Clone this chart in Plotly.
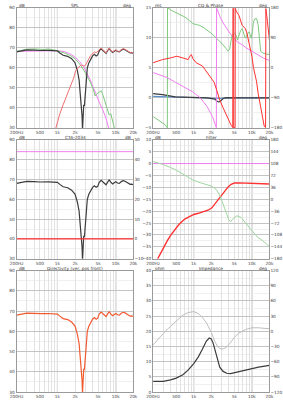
import plotly.graph_objects as go

# ---------------- tick labels ----------------
x_tickvals = [200, 300, 400, 500, 600, 700, 800, 900, 1000, 2000, 3000, 4000,
              5000, 6000, 7000, 8000, 9000, 10000, 20000]
x_ticktext = ['200Hz', '', '', '500', '', '', '', '', '1k', '2k', '', '', '5k',
              '', '', '', '', '10k', '20k']
dark_grid_freqs = [1000, 10000]

panel_titles = ['SPL', 'CD & Phase', 'CTA-2034', 'Filter',
                'Directivity (ver, pos front)', 'Impedance']
left_units = ['dB', 'ms', 'dB', 'dB', 'dB', 'ohm']
right_units = ['deg', 'deg', 'dB', 'deg', '', 'deg']

# ---------------- on-axis (sum) response ----------------
freq_on = [200, 250, 300, 400, 500, 700, 1000, 1100, 1250, 1500, 1750, 2000, 2200,
           2350, 2480, 2560, 2640, 2690, 2750, 2820, 2900, 2980, 3100, 3250, 3450,
           3700, 4000, 4300, 4600, 4900, 5200, 5600, 6000, 6400, 6800, 7250, 7700,
           8200, 8800, 9400, 10000, 10700, 11500, 12400, 13400, 14400, 15400, 16500,
           17600, 18800, 20000]
spl_on = [68.0, 68.6, 69.0, 68.9, 68.7, 68.8, 68.5, 67.5, 66.3, 65.8, 64.6, 62.6, 58.5,
          54.0, 47.0, 42.0, 36.0, 29.0, 36.0, 41.5, 41.0, 47.0, 55.0, 60.0, 62.5,
          64.5, 66.0, 66.8, 66.0, 66.5, 68.5, 69.5, 68.8, 68.0, 67.3, 68.6, 69.7,
          68.6, 67.7, 68.3, 68.8, 68.2, 68.0, 68.9, 69.4, 69.1, 68.5, 68.0, 67.5,
          67.6, 67.3]

# woofer SPL (green)
freq_woof = [200, 250, 300, 400, 500, 600, 700, 850, 1000, 1200, 1400, 1700, 2000,
             2300, 2650, 3000, 3300, 3700, 4100, 4400, 4700, 5000, 5300, 5650, 6000,
             6300, 6650, 7000, 7300, 7700, 8200, 8700, 9100, 9600]
spl_woof = [68.3, 69.0, 69.4, 69.5, 69.3, 69.2, 69.5, 69.2, 68.6, 67.8, 67.2, 66.0,
            64.6, 62.6, 60.3, 57.5, 55.5, 52.5, 49.5, 46.0, 47.0, 47.5, 48.0, 48.6,
            46.5, 44.5, 43.0, 40.0, 38.5, 36.4, 37.2, 34.0, 31.5, 29.0]

# target low-pass (magenta)
freq_tgt = [200, 500, 1000, 1300, 1600, 2000, 2400, 2800, 3200, 3650, 4150, 4670,
            5300, 6000, 6800, 7600]
spl_tgt = [68.3, 68.5, 68.6, 68.2, 67.2, 65.4, 63.2, 60.6, 57.6, 54.0, 50.0, 46.0,
           42.3, 38.9, 34.8, 29.5]

# tweeter SPL (red)
freq_tw = [930, 1000, 1100, 1250, 1400, 1550, 1700, 1900, 2050, 2250, 2420, 2600,
           2800, 3000, 3200, 3450, 3700, 4000, 4300, 4600, 4900, 5200, 5600, 6000,
           6400, 6800, 7250, 7700, 8200, 8800, 9400, 10000, 10700, 11500, 12400,
           13400, 14400, 15400, 16500, 17600, 18800, 20000]
spl_tw = [29.5, 33.0, 37.0, 41.5, 45.0, 48.5, 51.5, 55.0, 58.5, 60.0, 61.0, 61.4,
          61.0, 61.2, 62.5, 64.5, 66.2, 67.3, 68.0, 67.6, 68.2, 69.0, 70.0, 69.0,
          68.3, 67.5, 68.8, 70.0, 68.8, 67.9, 68.6, 69.0, 68.4, 68.2, 69.1, 69.6,
          69.3, 68.7, 68.2, 67.7, 67.8, 67.4]

# ---------------- CD & Phase ----------------
freq_ph_woof = [200, 260, 320, 352, 354, 420, 483, 600, 706, 850, 967, 1100, 1243,
                1450, 1700, 2000, 2475, 2800, 3186, 3600, 3900, 4130, 4350, 4560,
                4980, 5300, 5640, 6000, 6400, 6800, 7250, 7710, 8200, 8880, 9300,
                9750, 10200, 10650, 11300, 12050, 12840, 13500, 14150, 15340, 17000,
                20000]
ph_woof = [-146, -158, -170, -180, 180, 172, 167, 160, 152.6, 142, 133, 130, 128,
           122, 113.5, 104, 89, 80, 69.5, 58, 50, 55, 80, 99, 103.7, 99, 84, 99,
           112, 118, 104, 89, 99, 108.6, 100, 89, 110, 138, 147.7, 148, 128, 90, 50,
           45, 42, 40]

freq_ph_tgt = [200, 280, 350, 483, 700, 967, 1300, 1700, 2100, 2450, 2470, 2800,
               3200, 3640, 4200, 4980, 5600, 6800, 8000, 10000, 13000, 16000, 20000]
ph_tgt = [-14, -22, -29, -43, -58, -72, -90, -116, -146, -179, 180, 155, 135, 120,
          104, 89, 78, 69.5, 60, 50, 38, 29, 22.5]

freq_ph_tw = [200, 290, 400, 512, 650, 800, 880, 908, 967, 1099, 1409, 1700, 2000,
              2243, 2500, 2813, 3200, 3640, 4000, 4400, 4700, 4760, 4790, 5150,
              5170, 5400, 6000, 6800, 7700, 8200, 8880, 10000, 10650, 12000, 12840,
              15340, 16300, 17200, 17400, 18500, 20400]
ph_tw = [15.6, 25, 30, 35, 30, 25, 38, 40, 28, 15.6, 6, -13.7, -28, -43, -68, -97,
         -120, -141, -160, -172, -179, 179, -179, -179, 179, 170, 157.5, 128, 118,
         105, 79, 35, 1, -40, -77, -155, -175, -179, 178, 140, 69.5]

freq_gd = [200, 290, 480, 900, 1700, 2300, 2550, 2700, 2900, 3200, 3600, 5000,
           10000, 20000]
gd_sum = [0.71, 0.54, 0.16, 0.05, 0.0, -0.2, -0.6, -0.65, -0.5, -0.1, 0.05, 0.02,
          0.02, 0.02]
gd_other = [0.27, 0.22, 0.1, 0.02, 0.0, -0.08, -0.12, -0.12, -0.1, -0.02, 0.0, 0.0,
            0.0, 0.0]

# ---------------- CTA-2034 ----------------
cta_freq = [200, 20000]
cta_di_upper = [44, 44]
cta_di_lower = [0, 0]

# ---------------- Filter ----------------
freq_filt = [240, 270, 300, 350, 400, 480, 560, 700, 850, 1000, 1200, 1500, 1800,
             2050, 2300, 2600, 3000, 3400, 3900, 4400, 5000, 6000, 8000, 12000,
             20000]
filt_mag = [-40, -37.5, -35.5, -32.5, -30.2, -27.5, -25.5, -23.3, -22.2, -21.4,
            -20.9, -20.3, -19.5, -18.6, -17.0, -15.3, -13.2, -11.4, -9.8, -8.7,
            -8.2, -8.1, -8.2, -8.4, -8.6]
freq_filt_ph = [200, 250, 300, 400, 500, 700, 967, 1300, 1700, 2000, 2300, 2600,
                2900, 3300, 3700, 4000, 4300, 4800, 5500, 6500, 8000, 10000, 12500,
                15000, 20000]
filt_ph = [114, 110, 105, 96, 88, 73, 58, 50, 44, 40, 34, 22, 6, -18, -45, -62, -68,
           -58, -50, -55, -75, -96, -115, -124, -143]
filt_ref = [0, 0]

# ---------------- Impedance ----------------
freq_imp = [200, 250, 300, 400, 500, 650, 800, 1000, 1200, 1400, 1650, 1850, 2000,
            2150, 2300, 2550, 2800, 3200, 3700, 4300, 5000, 6000, 8000, 10000, 13000,
            20000]
imp_mag = [3.5, 3.4, 3.5, 4.0, 4.6, 5.7, 7.2, 9.4, 11.6, 14.0, 16.8, 17.8, 17.5,
           16.2, 14.0, 10.7, 8.2, 6.8, 6.2, 6.1, 6.4, 6.8, 7.3, 7.7, 8.2, 8.8]
imp_ph = [-27, -14, -4, 10, 20, 32, 37, 39, 35, 28, 17, 7, -2, -11, -20, -29, -34,
          -35, -31, -22, -12, -3, 4, 7, 7, 5]

# ---------------- styles ----------------
C_DARK = '#3c3c3c'
C_GREEN = '#7fc97f'
C_PINK = '#f07ef0'
C_RED = '#f07070'
C_RED2 = '#ff3030'
C_ORANGE = '#f25a30'
C_BLUE = '#5a8fd0'
C_LGRAY = '#bdbdbd'
FONT = 'DejaVu Sans, sans-serif'
TXT = '#444444'
FS = 4.3

W, H = 283, 400
cols = [[10 / W, 131.5 / W], [152 / W, 273 / W]]
rows = [[1 - 127.5 / H, 1 - 6 / H], [1 - 260 / H, 1 - 139.5 / H],
        [1 - 395 / H, 1 - 272 / H]]

# left/right ranges and ticks per panel
left_ax = [(30, 90, 10), (-5, 15, 5), (30, 90, 10), (-40, 10, 5), (30, 90, 10), (0, 40, 5)]
right_ax = [(-180, 180, 60), (-180, 180, 90), (-10, 50, 10), (-180, 180, 36), None,
            (-120, 120, 30)]


def aid(n):
    return '' if n == 1 else str(n)


fig = go.Figure()


def add(i, xs, ys, color, width=1.0, right=False):
    fig.add_trace(go.Scatter(
        x=xs, y=ys, mode='lines', line=dict(color=color, width=width),
        xaxis='x' + aid(i), yaxis='y' + aid(i + 6 if right else i),
        showlegend=False, hoverinfo='skip'))


# panel 1: SPL
add(1, freq_tgt, spl_tgt, C_PINK)
add(1, freq_woof, spl_woof, C_GREEN)
add(1, freq_on, spl_on, C_DARK, 1.2)
add(1, freq_tw, spl_tw, C_RED)
# panel 2: CD & phase
add(2, freq_ph_woof, ph_woof, C_GREEN, right=True)
add(2, freq_ph_tgt, ph_tgt, C_PINK, right=True)
add(2, freq_ph_tw, ph_tw, C_RED2, right=True)
add(2, freq_gd, gd_other, C_BLUE, 1.2)
add(2, freq_gd, gd_sum, C_DARK, 1.2)
# panel 3: CTA-2034
add(3, freq_on, spl_on, C_DARK, 1.2)
add(3, cta_freq, cta_di_upper, C_PINK, right=True)
add(3, cta_freq, cta_di_lower, C_RED2, 1.2, right=True)
# panel 4: Filter
add(4, cta_freq, filt_ref, C_PINK)
add(4, freq_filt_ph, filt_ph, '#9fd49f', right=True)
add(4, freq_filt, filt_mag, C_RED2, 1.4)
# panel 5: Directivity
add(5, freq_on, spl_on, C_ORANGE, 1.2)
# panel 6: Impedance
add(6, freq_imp, imp_ph, C_LGRAY, 1.0, right=True)
add(6, freq_imp, imp_mag, C_DARK, 1.2)

layout = dict(width=W, height=H, margin=dict(l=0, r=0, t=0, b=0), autosize=False,
              paper_bgcolor='white', plot_bgcolor='white',
              font=dict(family=FONT, size=FS, color=TXT), annotations=[], shapes=[])

ann_font = dict(size=FS, color='#333333', family=FONT)

for i in range(1, 7):
    r, c = (i - 1) // 2, (i - 1) % 2
    xd, yd = cols[c], rows[r]
    layout['xaxis' + aid(i)] = dict(
        type='log', range=[2.30103, 4.30103], domain=xd, anchor='y' + aid(i),
        tickvals=x_tickvals, ticktext=x_ticktext, tickangle=0,
        showgrid=True, gridcolor='#e2e2e2', gridwidth=1,
        showline=True, mirror=True, linecolor='#9a9a9a', linewidth=1,
        ticks='', tickfont=dict(size=FS, color=TXT), zeroline=False, fixedrange=True)
    lo, hi, dt = left_ax[i - 1]
    layout['yaxis' + aid(i)] = dict(
        range=[lo, hi], domain=yd, anchor='x' + aid(i), dtick=dt, tick0=lo,
        showgrid=True, gridcolor='#c4c4c4', gridwidth=1, zeroline=False,
        minor=dict(showgrid=True, gridcolor='#f0f0f0', dtick=dt / 2),
        ticks='', tickfont=dict(size=FS, color=TXT), showline=True, mirror=True,
        linecolor='#9a9a9a', fixedrange=True)
    ra = right_ax[i - 1]
    if ra is not None:
        rlo, rhi, rdt = ra
        layout['yaxis' + aid(i + 6)] = dict(
            range=[rlo, rhi], overlaying='y' + aid(i), anchor='x' + aid(i), side='right',
            dtick=rdt, tick0=rlo, showgrid=False, zeroline=False, ticks='',
            tickfont=dict(size=FS, color=TXT), fixedrange=True)
    else:
        layout['yaxis' + aid(i + 6)] = dict(
            range=[0, 1], overlaying='y' + aid(i), anchor='x' + aid(i), side='right',
            showgrid=False, zeroline=False, showticklabels=False, fixedrange=True)
    # title and units
    layout['annotations'].append(dict(
        text=panel_titles[i - 1], x=(xd[0] + xd[1]) / 2, y=yd[1], xref='paper',
        yref='paper', xanchor='center', yanchor='bottom', showarrow=False,
        font=ann_font, borderpad=0, yshift=-1))
    layout['annotations'].append(dict(
        text=left_units[i - 1], x=xd[0], y=yd[1], xref='paper', yref='paper',
        xanchor='left', yanchor='bottom', showarrow=False, xshift=1, yshift=-1,
        font=ann_font, borderpad=0))
    if right_units[i - 1]:
        layout['annotations'].append(dict(
            text=right_units[i - 1], x=xd[1], y=yd[1], xref='paper', yref='paper',
            xanchor='right', yanchor='bottom', showarrow=False, xshift=-1, yshift=-1,
            font=ann_font, borderpad=0))
    for f in dark_grid_freqs:
        layout['shapes'].append(dict(
            type='line', xref='x' + aid(i), yref='y' + aid(i) + ' domain',
            x0=f, x1=f, y0=0, y1=1,
            line=dict(color='#a8a8a8', width=1), layer='below'))

fig.update_layout(**layout)
fig.write_html('out.html')
